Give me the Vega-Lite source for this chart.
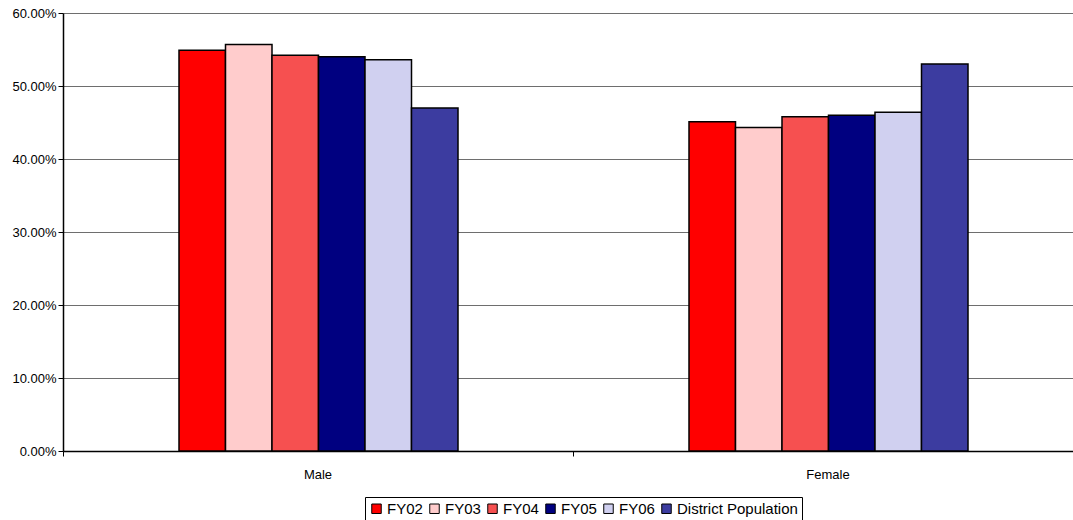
{
  "$schema": "https://vega.github.io/schema/vega-lite/v6.json",
  "autosize": "none",
  "width": 1020,
  "height": 438,
  "padding": {"left": 63, "top": 13, "right": 0, "bottom": 69},
  "background": "white",
  "config": {
    "view": {"stroke": null},
    "font": "Liberation Sans"
  },
  "data": {
    "values": [
      {"gender": "Male", "series": "FY02", "share": 0.549},
      {"gender": "Male", "series": "FY03", "share": 0.557},
      {"gender": "Male", "series": "FY04", "share": 0.542},
      {"gender": "Male", "series": "FY05", "share": 0.540},
      {"gender": "Male", "series": "FY06", "share": 0.536},
      {"gender": "Male", "series": "District Population", "share": 0.470},
      {"gender": "Female", "series": "FY02", "share": 0.451},
      {"gender": "Female", "series": "FY03", "share": 0.443},
      {"gender": "Female", "series": "FY04", "share": 0.458},
      {"gender": "Female", "series": "FY05", "share": 0.460},
      {"gender": "Female", "series": "FY06", "share": 0.464},
      {"gender": "Female", "series": "District Population", "share": 0.530}
    ]
  },
  "mark": {"type": "bar", "stroke": "black", "strokeWidth": 1.5},
  "encoding": {
    "x": {
      "field": "gender",
      "type": "nominal",
      "sort": ["Male", "Female"],
      "scale": {"paddingInner": 0, "paddingOuter": 0},
      "axis": {
        "title": null,
        "labelAngle": 0,
        "labelFontSize": 13,
        "labelColor": "black",
        "labelPadding": 12,
        "bandPosition": 0,
        "tickColor": "black",
        "tickSize": 5,
        "domainColor": "black",
        "domainWidth": 1.5
      }
    },
    "xOffset": {
      "field": "series",
      "type": "nominal",
      "sort": ["FY02", "FY03", "FY04", "FY05", "FY06", "District Population"],
      "scale": {"range": [116, 395], "paddingInner": 0, "paddingOuter": 0}
    },
    "y": {
      "field": "share",
      "type": "quantitative",
      "scale": {"domain": [0, 0.6], "nice": false},
      "axis": {
        "title": null,
        "format": ".2%",
        "values": [0, 0.1, 0.2, 0.3, 0.4, 0.5, 0.6],
        "labelFontSize": 13,
        "labelColor": "black",
        "labelPadding": 2,
        "tickColor": "black",
        "tickSize": 5,
        "domainColor": "black",
        "domainWidth": 1.5,
        "grid": true,
        "gridColor": "#6e6e6e",
        "gridWidth": 1.2
      }
    },
    "fill": {
      "field": "series",
      "type": "nominal",
      "sort": ["FY02", "FY03", "FY04", "FY05", "FY06", "District Population"],
      "scale": {
        "domain": ["FY02", "FY03", "FY04", "FY05", "FY06", "District Population"],
        "range": ["#ff0000", "#ffcccc", "#f65050", "#000080", "#d0d0f0", "#3c3ca0"]
      },
      "legend": {
        "title": null,
        "orient": "none",
        "legendX": 302,
        "legendY": 484,
        "direction": "horizontal",
        "strokeColor": "black",
        "padding": 4,
        "symbolType": "square",
        "symbolSize": 90,
        "symbolStrokeColor": "black",
        "symbolStrokeWidth": 1,
        "labelFontSize": 15,
        "labelColor": "black",
        "labelOffset": 3,
        "columnPadding": 4,
        "fillColor": "white"
      }
    }
  }
}
